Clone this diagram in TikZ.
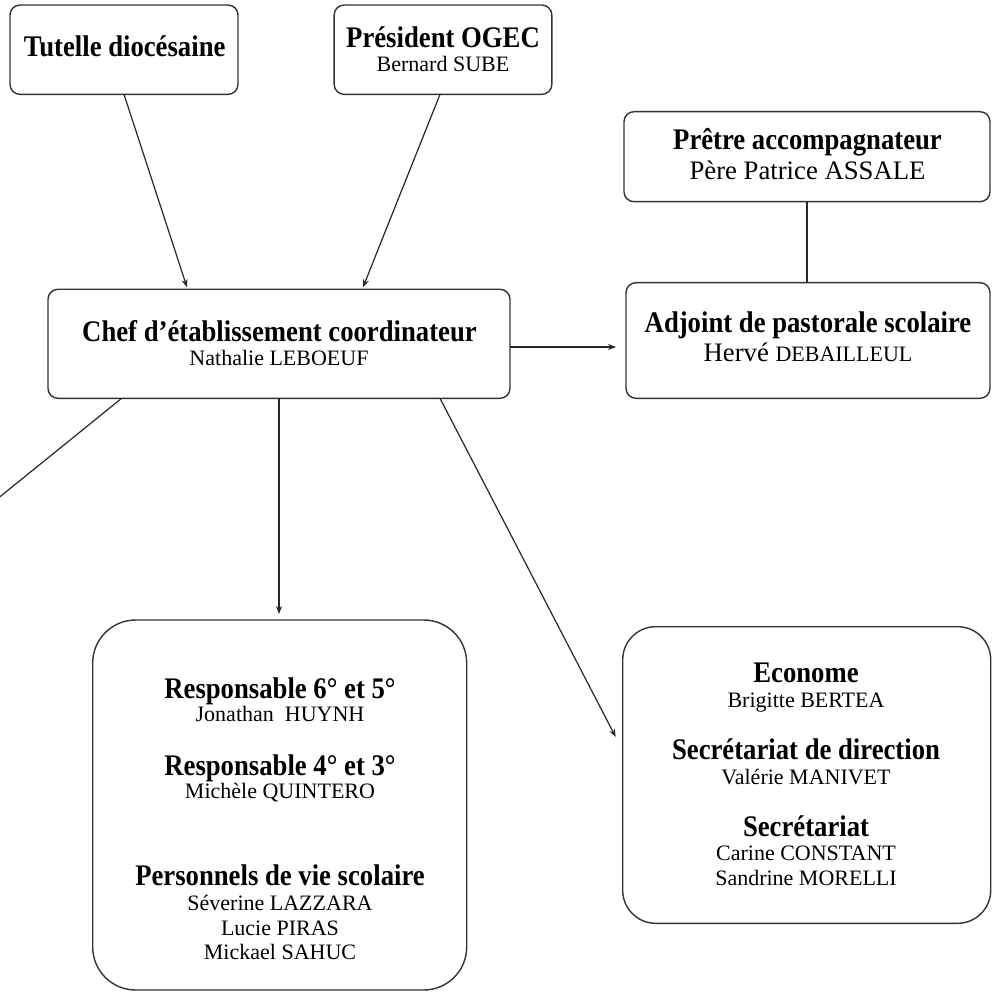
\documentclass[tikz,border=0pt]{standalone}
\usepackage{graphicx}
\usepackage{fontspec}
\setmainfont{Liberation Serif}
\usetikzlibrary{arrows.meta,calc}
\newcommand{\ttlfont}{\fontsize{26.7}{30}\selectfont\bfseries}
\newcommand{\nmfont}{\fontsize{22}{25}\selectfont}
\newcommand{\bignmfont}{\fontsize{26.7}{30}\selectfont}
\newcommand{\Ttl}[1]{\scalebox{1}[1.12]{#1}}
\begin{document}
\begin{tikzpicture}[x=1pt,y=-1pt,
  box/.style={draw=black!80, line width=1.4pt, rounded corners=10pt, inner sep=0pt, outer sep=0pt},
  ttl/.style={inner sep=0pt, anchor=base, font=\ttlfont},
  nm/.style={inner sep=0pt, anchor=base, font=\nmfont},
  bnm/.style={inner sep=0pt, anchor=base, font=\bignmfont},
  link/.style={draw=black!85, line width=1.2pt},
  arr/.style={link, -{Stealth[length=8pt,width=6pt]}}]
\useasboundingbox (0,0) rectangle (996,992);

% boxes
\node[box, minimum width=228pt, minimum height=89.3pt] (tut) at (124,49.7) {};
\node[box, minimum width=217.7pt, minimum height=89.3pt] (pres) at (443,49.7) {};
\node[box, minimum width=366pt, minimum height=90pt] (pretre) at (807,156.7) {};
\node[box, minimum width=364pt, minimum height=115.6pt] (adj) at (808,340.5) {};
\node[box, minimum width=462pt, minimum height=109pt] (chef) at (279,343.8) {};
\node[box, rounded corners=43pt, minimum width=374pt, minimum height=370pt] (bl) at (279.7,805) {};
\node[box, rounded corners=33pt, minimum width=368pt, minimum height=296.6pt] (br) at (806.7,775) {};

% texts
\node[ttl] (tutT) at (124.7,56.7) {\Ttl{Tutelle diocésaine}};
\node[ttl] (presT) at (443,47.7) {\Ttl{Président OGEC}};
\node[nm] (presN) at (443,71.7) {Bernard SUBE};
\node[ttl] (pretreT) at (807.5,150) {\Ttl{Prêtre accompagnateur}};
\node[bnm] (pretreN) at (807.5,180) {Père Patrice ASSALE};
\node[ttl] (adjT) at (808,333) {\Ttl{Adjoint de pastorale scolaire}};
\node[bnm] (adjN) at (808,361.7) {Hervé {\nmfont DEBAILLEUL}};
\node[ttl] (chefT) at (279.5,341.7) {\Ttl{Chef d’établissement coordinateur}};
\node[nm] (chefN) at (279,366) {Nathalie LEBOEUF};

\node[ttl] (r65T) at (280,698) {\Ttl{Responsable 6° et 5°}};
\node[nm] (r65N) at (280,721.7) {Jonathan~~HUYNH};
\node[ttl] (r43T) at (280,775) {\Ttl{Responsable 4° et 3°}};
\node[nm] (r43N) at (280,798.3) {Michèle QUINTERO};
\node[ttl] (pvsT) at (280,885.5) {\Ttl{Personnels de vie scolaire}};
\node[nm] (pvs1) at (280,910) {Séverine LAZZARA};
\node[nm] (pvs2) at (280,935) {Lucie PIRAS};
\node[nm] (pvs3) at (280,959) {Mickael SAHUC};

\node[ttl] (ecoT) at (806,682.7) {\Ttl{Econome}};
\node[nm] (ecoN) at (806,707.3) {Brigitte BERTEA};
\node[ttl] (sdT) at (806,759.3) {\Ttl{Secrétariat de direction}};
\node[nm] (sdN) at (806,784) {Valérie MANIVET};
\node[ttl] (secT) at (806,836) {\Ttl{Secrétariat}};
\node[nm] (sec1) at (806,860.7) {Carine CONSTANT};
\node[nm] (sec2) at (806,885) {Sandrine MORELLI};

% connectors
\coordinate (lend) at (0,496.7);
\coordinate (dtip) at ([yshift=6pt]bl.north);
\draw[arr] (tut.south) -- ([xshift=-92pt,yshift=2pt]chef.north);
\draw[arr] ([xshift=-3pt]pres.south) -- ([xshift=84pt,yshift=2pt]chef.north);
\draw[link] (pretre.south) -- (pretre.south |- adj.north);
\draw[arr] ([yshift=-3.2pt]chef.east) -- ([xshift=-10pt,yshift=-6.5pt]adj.west);
\draw[link] ([xshift=-157.3pt]chef.south) -- (lend);
\draw[arr] (chef.south) -- (chef.south |- dtip);
\draw[arr] ([xshift=161pt]chef.south) -- ([xshift=-7pt,yshift=38pt]br.west);
\end{tikzpicture}
\end{document}
